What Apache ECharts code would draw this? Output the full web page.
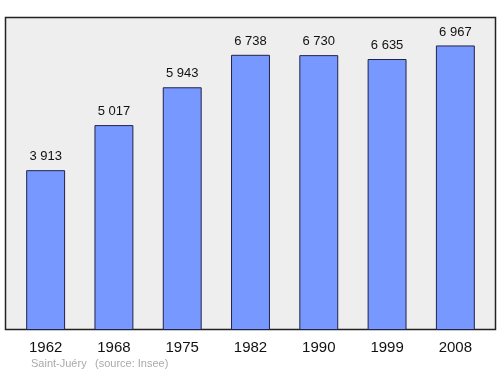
<!DOCTYPE html>
<html><head><meta charset="utf-8">
<script src="https://cdn.jsdelivr.net/npm/echarts@6/dist/echarts.min.js"></script>
<style>html,body{margin:0;padding:0;background:#fff}#c{width:500px;height:374px}</style>
</head><body><div id="c"></div>
<script>
const years = ['1962','1968','1975','1982','1990','1999','2008'];
const population = [3913, 5017, 5943, 6738, 6730, 6635, 6967];
const sourceText = ['Saint-Juéry', '(source: Insee)'];

const chart = echarts.init(document.getElementById('c'), null, {renderer:'canvas'});
const fmt = v => String(v).replace(/\B(?=(\d{3})+(?!\d))/g, ' ');
chart.setOption({
  animation:false,
  graphic:[
    {type:'rect', z:-10, shape:{x:5.5,y:17.5,width:490,height:312}, style:{fill:'#eeeeee', stroke:'#222', lineWidth:1.5}},
    {type:'text', left:31, top:358, style:{text:sourceText[0], fill:'#aaaaaa', font:'11px "Liberation Sans", Arial, sans-serif'}},
    {type:'text', left:95, top:358, style:{text:sourceText[1], fill:'#aaaaaa', font:'11px "Liberation Sans", Arial, sans-serif'}}
  ],
  grid:{left:11.5, right:10.5, top:17, bottom:44},
  xAxis:{type:'category', data:years, axisLine:{show:false}, axisTick:{show:false},
    axisLabel:{color:'#111', fontSize:15, fontFamily:'Liberation Sans', margin:10}},
  yAxis:{type:'value', min:0, max:7663.7, show:false, splitLine:{show:false}},
  series:[{type:'bar', data:population, barWidth:'57%',
    itemStyle:{color:'#7799ff', borderColor:'#22224a', borderWidth:1},
    label:{show:true, position:'top', distance:7, color:'#111', fontSize:13, fontFamily:'Liberation Sans', formatter:p=>fmt(p.value)}
  }]
});
</script></body></html>
